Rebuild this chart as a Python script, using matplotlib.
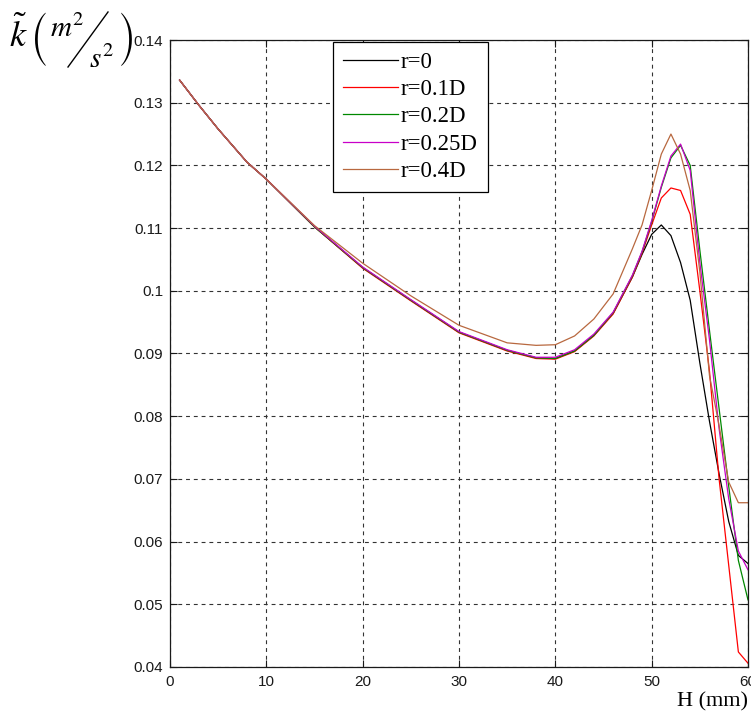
import numpy as np
import matplotlib
matplotlib.use("Agg")
import matplotlib.pyplot as plt
from matplotlib.lines import Line2D

# H (mm) sample positions shared by all series
H = [1, 3, 5, 8, 10, 15, 20, 25, 30, 35, 38, 40, 42, 44, 46, 48, 49,
     50, 51, 52, 53, 54, 55, 56, 57, 58, 59, 60]

k_r0 = [0.1336, 0.1296, 0.1258, 0.1205, 0.1178, 0.1102, 0.1037, 0.0985, 0.0934,
        0.0905, 0.0893, 0.0892, 0.0904, 0.0929, 0.0964, 0.1022, 0.1058,
        0.1090, 0.1105, 0.1088, 0.1045, 0.0985, 0.0885, 0.0792, 0.0708, 0.0632, 0.0578, 0.0565]
k_r01 = [0.1336, 0.1296, 0.1258, 0.1205, 0.1178, 0.1102, 0.1036, 0.0984, 0.0933,
         0.0904, 0.0892, 0.0891, 0.0903, 0.0928, 0.0963, 0.1022, 0.1060,
         0.1105, 0.1148, 0.1164, 0.1160, 0.1122, 0.1000, 0.0872, 0.0700, 0.0562, 0.0424, 0.0406]
k_r02 = [0.1336, 0.1296, 0.1258, 0.1205, 0.1178, 0.1102, 0.1037, 0.0985, 0.0934,
         0.0905, 0.0893, 0.0892, 0.0904, 0.0929, 0.0965, 0.1024, 0.1062,
         0.1110, 0.1165, 0.1212, 0.1232, 0.1200, 0.1065, 0.0937, 0.0812, 0.0688, 0.0570, 0.0507]
k_r025 = [0.1336, 0.1296, 0.1258, 0.1205, 0.1178, 0.1103, 0.1038, 0.0986, 0.0935,
          0.0906, 0.0894, 0.0894, 0.0906, 0.0931, 0.0966, 0.1025, 0.1063,
          0.1112, 0.1167, 0.1215, 0.1234, 0.1192, 0.1045, 0.0922, 0.0780, 0.0668, 0.0585, 0.0555]
k_r04 = [0.1336, 0.1296, 0.1258, 0.1205, 0.1178, 0.1104, 0.1044, 0.0992, 0.0945,
         0.0917, 0.0913, 0.0914, 0.0928, 0.0955, 0.0995, 0.1067, 0.1105,
         0.1160, 0.1218, 0.1250, 0.1218, 0.1160, 0.1030, 0.0865, 0.0785, 0.0695, 0.0662, 0.0662]

series = [
    ("r=0", k_r0, "#000000"),
    ("r=0.1D", k_r01, "#ff0000"),
    ("r=0.2D", k_r02, "#008800"),
    ("r=0.25D", k_r025, "#c800c8"),
    ("r=0.4D", k_r04, "#b8683f"),
]

plt.rcParams.update({"font.family": "Liberation Sans", "mathtext.fontset": "stix"})

W, Hpx = 751, 715
fig = plt.figure(figsize=(W / 100, Hpx / 100), dpi=100)
ax = fig.add_axes([170 / W, 1 - 667 / Hpx, 578 / W, 627 / Hpx])

for lab, k, col in series:
    ax.plot(H, k, color=col, lw=0.9, label=lab)

ax.set_xlim(0, 60)
ax.set_ylim(0.04, 0.14)
ax.set_xticks(np.arange(0, 61, 10))
ax.set_yticks(np.arange(0.04, 0.1401, 0.01))
ax.set_yticklabels(["0.04", "0.05", "0.06", "0.07", "0.08", "0.09", "0.1",
                    "0.11", "0.12", "0.13", "0.14"])
ax.tick_params(direction="in", top=True, right=True, length=5, width=0.8,
               labelsize=11, colors="#1a1a1a")
ax.tick_params(axis="x", pad=6)
ax.tick_params(axis="y", pad=5)
ax.grid(True, color="#333333", lw=0.8, linestyle=(0, (3.5, 3.5)))
for s in ax.spines.values():
    s.set_linewidth(0.9)
    s.set_color("#1a1a1a")

leg = ax.legend(loc="upper left", bbox_to_anchor=(0.282, 0.997), borderaxespad=0,
                fancybox=False, edgecolor="black", framealpha=1,
                prop={"family": "Liberation Serif", "size": 16.5},
                handlelength=2.4, labelspacing=0.28, borderpad=0.42, handletextpad=0.15)
leg.get_frame().set_linewidth(0.9)

ax.text(1.0, -0.055, "H (mm)", transform=ax.transAxes, ha="right", va="center",
        family="Liberation Serif", fontsize=16)

# y-axis unit label at top-left: k~ (m^2 / s^2)
fig.text(9 / W, 1 - 36 / Hpx, r"$\tilde{k}$", ha="left", va="center", fontsize=26)
fig.text(30 / W, 1 - 40 / Hpx,
         r"$\left(\genfrac{}{}{0}{0}{m^2\quad\;}{\qquad s^2}\right)$",
         ha="left", va="center", fontsize=21)
fig.add_artist(Line2D([68 / W, 108 / W], [1 - 67 / Hpx, 1 - 12 / Hpx],
                      transform=fig.transFigure, color="black", lw=1.0))

fig.savefig("out.png", dpi=100, facecolor="white")
